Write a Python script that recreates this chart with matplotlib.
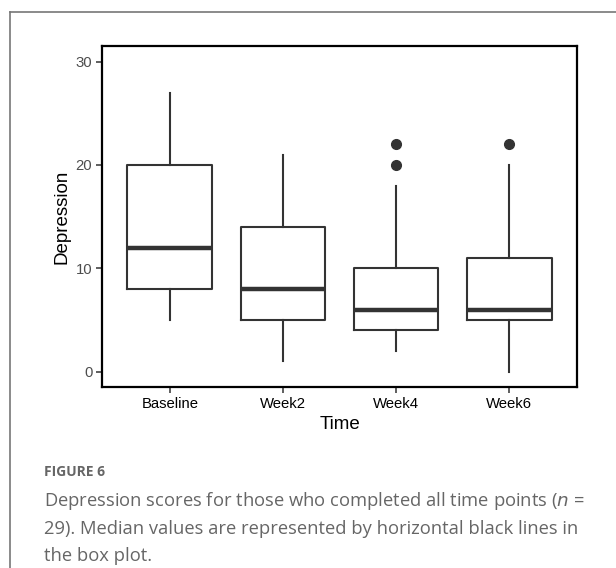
import matplotlib
matplotlib.use("Agg")
import matplotlib.pyplot as plt
from matplotlib.lines import Line2D

# box plot summary values
times = ["Baseline", "Week2", "Week4", "Week6"]
whisk_lo = [5, 1, 2, 0]
q1 = [8, 5, 4, 5]
median = [12, 8, 6, 6]
q3 = [20, 14, 10, 11]
whisk_hi = [27, 21, 18, 20]
outliers = [[], [], [20, 22], [22]]

yticks = [0, 10, 20, 30]

fig = plt.figure(figsize=(6.16, 5.68), dpi=100)
ax = fig.add_axes([102/616, 1-387/568, 475/616, 341/568])

stats = []
for i in range(len(times)):
    stats.append(dict(whislo=whisk_lo[i], q1=q1[i], med=median[i], q3=q3[i],
                      whishi=whisk_hi[i], fliers=outliers[i], label=times[i]))

col = "#333333"
ax.bxp(stats, positions=range(1, 5), widths=0.75, showcaps=False,
       boxprops=dict(color=col, linewidth=1.5),
       whiskerprops=dict(color=col, linewidth=1.5),
       medianprops=dict(color=col, linewidth=3.2),
       flierprops=dict(marker="o", markerfacecolor=col, markeredgecolor=col, markersize=7))

ax.set_xlim(0.4, 4.6)
ax.set_ylim(-1.5, 31.5)
ax.set_yticks(yticks)
ax.set_xticks(range(1, 5))
ax.set_xticklabels(times)

for s in ax.spines.values():
    s.set_linewidth(1.6)
    s.set_color("black")

ax.tick_params(axis="both", length=4, width=1.1, color="#333333")
ax.tick_params(axis="x", labelsize=10.7, labelcolor="black", pad=3)
ax.tick_params(axis="y", labelsize=10.7, labelcolor="#4d4d4d", pad=3)
for t in ax.get_xticklabels() + ax.get_yticklabels():
    t.set_family("Liberation Sans")

ax.set_xlabel("Time", fontsize=13.5, family="Liberation Sans", labelpad=4)
ax.set_ylabel("Depression", fontsize=13.5, family="Liberation Sans", labelpad=4)

# outer panel frame (top and left edges visible)
fig.add_artist(Line2D([10/616, 1], [1-12/568, 1-12/568], color="#777777", lw=1.2))
fig.add_artist(Line2D([10/616, 10/616], [0, 1-12/568], color="#777777", lw=1.2))

fig.text(44/616, 1-472/568, "FIGURE 6", fontsize=10, color="#666666",
         family="Open Sans", fontweight="bold", va="center")
cap = ("Depression scores for those who completed all time points ($n$ =\n"
       "29). Median values are represented by horizontal black lines in\n"
       "the box plot.")
fig.text(44/616, 1-490/568, cap, fontsize=13.2, color="#666666",
         family="Open Sans", va="top", linespacing=1.6)

fig.savefig("out.png", dpi=100)
